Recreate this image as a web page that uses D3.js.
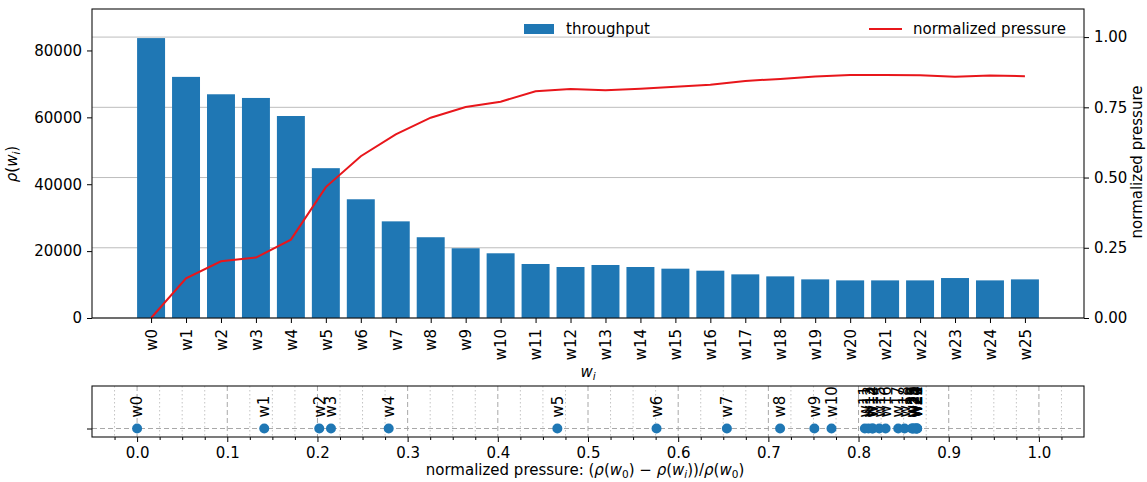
<!DOCTYPE html>
<html><head><meta charset="utf-8">
<script src="https://cdn.jsdelivr.net/npm/d3@7"></script>
<style>
body{margin:0;background:#fff;}
svg{display:block;font-family:"DejaVu Sans",sans-serif;}
</style></head><body>
<svg id="c" width="1147" height="482"></svg>
<script>
const categories = ["w0","w1","w2","w3","w4","w5","w6","w7","w8","w9","w10","w11","w12","w13","w14","w15","w16","w17","w18","w19","w20","w21","w22","w23","w24","w25"];
const throughput = [83700, 72100, 66900, 65800, 60400, 44800, 35500, 28900, 24150, 20850, 19350, 16150, 15250, 15850, 15250, 14750, 14150, 13050, 12450, 11550, 11250, 11250, 11250, 11950, 11250, 11550];
const pressure = [0.000, 0.141, 0.202, 0.215, 0.279, 0.466, 0.576, 0.654, 0.713, 0.751, 0.770, 0.807, 0.815, 0.811, 0.816, 0.823, 0.830, 0.844, 0.851, 0.860, 0.865, 0.865, 0.864, 0.859, 0.863, 0.861];
const leftTicks = [0, 20000, 40000, 60000, 80000];
const rightTicks = [0, 0.25, 0.5, 0.75, 1.0];
const stripTicks = [0, 0.1, 0.2, 0.3, 0.4, 0.5, 0.6, 0.7, 0.8, 0.9, 1.0];
const stripMinor = [-0.025, 0.025, 0.05, 0.075, 0.125, 0.15, 0.175, 0.225, 0.25, 0.275, 0.325, 0.35, 0.375, 0.425, 0.45, 0.475, 0.525, 0.55, 0.575, 0.625, 0.65, 0.675, 0.725, 0.75, 0.775, 0.825, 0.85, 0.875, 0.925, 0.95, 0.975, 1.025];

const FS = 15;
const BLUE = "#1f77b4", RED = "#e8161b";
const svg = d3.select("#c");
svg.append("rect").attr("width",1147).attr("height",482).attr("fill","#fff");

function mathText(sel, segs, size){
  let shift = 0;
  segs.forEach(s=>{
    const target = s.sub ? size*0.2 : 0;
    const t = sel.append("tspan").text(s.t).attr("dy", target - shift);
    shift = target;
    if(s.i) t.attr("font-style","italic");
    if(s.sub) t.attr("font-size", size*0.7);
  });
}

// ---------- top chart ----------
const P = {l:92, r:1084, t:9, b:318};
const x = d3.scaleLinear().domain([-1.69, 26.69]).range([P.l, P.r]);
const yL = d3.scaleLinear().domain([0, 92400]).range([P.b, P.t]);
const yR = d3.scaleLinear().domain([0, 1.1]).range([P.b, P.t]);

const gTop = svg.append("g");
gTop.selectAll("line.grid").data(rightTicks).join("line")
  .attr("x1",P.l).attr("x2",P.r).attr("y1",d=>yR(d)).attr("y2",d=>yR(d))
  .attr("stroke","#bdbdbd").attr("stroke-width",1);

const bw = x(0.4) - x(-0.4);
gTop.selectAll("rect.bar").data(throughput).join("rect")
  .attr("x",(d,i)=>x(i)-bw/2).attr("width",bw)
  .attr("y",d=>yL(d)).attr("height",d=>P.b-yL(d)).attr("fill",BLUE);

const line = d3.line().x((d,i)=>x(i)).y(d=>yR(d));
gTop.append("path").datum(pressure).attr("d",line)
  .attr("fill","none").attr("stroke",RED).attr("stroke-width",2);

const axL = gTop.append("g").attr("transform",`translate(${P.l},0)`)
  .call(d3.axisLeft(yL).tickValues(leftTicks).tickSize(5).tickPadding(5).tickFormat(d3.format("d")));
const axR = gTop.append("g").attr("transform",`translate(${P.r},0)`)
  .call(d3.axisRight(yR).tickValues(rightTicks).tickSize(5).tickPadding(5).tickFormat(d3.format(".2f")));
const axB = gTop.append("g").attr("transform",`translate(0,${P.b})`)
  .call(d3.axisBottom(x).tickValues(d3.range(categories.length)).tickSize(5).tickFormat(i=>categories[i]));
axB.selectAll("text").attr("transform","rotate(-90)").attr("text-anchor","end")
  .attr("x",-11).attr("y",0).attr("dy","0.35em");
[axL,axR,axB].forEach(a=>{
  a.select(".domain").remove();
  a.selectAll("text").attr("font-size",FS).attr("font-family","DejaVu Sans").attr("fill","#000");
  a.selectAll("line").attr("stroke","#000");
});
gTop.append("rect").attr("x",P.l).attr("y",P.t).attr("width",P.r-P.l).attr("height",P.b-P.t)
  .attr("fill","none").attr("stroke","#111").attr("stroke-width",1.1);

const tl = gTop.append("text").attr("transform",`translate(17,164) rotate(-90)`)
  .attr("text-anchor","middle").attr("dy","0.35em").attr("font-size",FS);
mathText(tl,[{t:"ρ",i:true},{t:"("},{t:"w",i:true},{t:"i",i:true,sub:true},{t:")"}],FS);
gTop.append("text").attr("transform",`translate(1137,162) rotate(-90)`)
  .attr("text-anchor","middle").attr("dy","0.35em").attr("font-size",FS).text("normalized pressure");
const tx = gTop.append("text").attr("x",588).attr("y",377).attr("text-anchor","middle").attr("font-size",FS);
mathText(tx,[{t:"w",i:true},{t:"i",i:true,sub:true}],FS);

gTop.append("rect").attr("x",524).attr("y",24).attr("width",30).attr("height",10).attr("fill",BLUE);
gTop.append("text").attr("x",566).attr("y",29).attr("dy","0.35em").attr("font-size",FS).text("throughput");
gTop.append("line").attr("x1",869).attr("x2",902).attr("y1",29).attr("y2",29).attr("stroke",RED).attr("stroke-width",2);
gTop.append("text").attr("x",913).attr("y",29).attr("dy","0.35em").attr("font-size",FS).text("normalized pressure");

// ---------- strip ----------
const S = {l:92, r:1084, t:386, b:437};
const xs = d3.scaleLinear().domain([-0.05, 1.05]).range([S.l, S.r]);
const ys = d3.scaleLinear().domain([-0.2, 1]).range([S.b, S.t]);
const st = svg.append("g");
st.append("clipPath").attr("id","sclip").append("rect")
  .attr("x",S.l).attr("y",S.t).attr("width",S.r-S.l).attr("height",S.b-S.t);

st.selectAll("line.minor").data(stripMinor).join("line")
  .attr("x1",d=>xs(d)).attr("x2",d=>xs(d)).attr("y1",S.t).attr("y2",S.b)
  .attr("stroke","#c4c4c4").attr("stroke-width",1).attr("stroke-dasharray","1.5,2.5");
st.selectAll("line.major").data(stripTicks).join("line")
  .attr("x1",d=>xs(d)).attr("x2",d=>xs(d)).attr("y1",S.t).attr("y2",S.b)
  .attr("stroke","#a8a8a8").attr("stroke-width",1).attr("stroke-dasharray","5,3");
st.append("line").attr("x1",S.l).attr("x2",S.r).attr("y1",ys(0)).attr("y2",ys(0))
  .attr("stroke","#a8a8a8").attr("stroke-width",1).attr("stroke-dasharray","5,3");

st.selectAll("circle").data(pressure).join("circle")
  .attr("cx",d=>xs(d)).attr("cy",ys(0)).attr("r",5).attr("fill",BLUE);
st.append("g").attr("clip-path","url(#sclip)")
  .selectAll("text").data(pressure).join("text")
  .attr("transform",d=>`translate(${xs(d)},${ys(0)-11}) rotate(-90)`)
  .attr("dy","0.35em").attr("font-size",FS).attr("fill","#000")
  .text((d,i)=>categories[i]);

const sB = st.append("g").attr("transform",`translate(0,${S.b})`)
  .call(d3.axisBottom(xs).tickValues(stripTicks).tickSize(5).tickPadding(5).tickFormat(d3.format(".1f")));
const sBm = st.append("g").attr("transform",`translate(0,${S.b})`)
  .call(d3.axisBottom(xs).tickValues(stripMinor).tickSize(3).tickFormat(""));
const sL = st.append("g").attr("transform",`translate(${S.l},0)`)
  .call(d3.axisLeft(ys).tickValues([0]).tickSize(5).tickFormat(""));
[sB,sBm,sL].forEach(a=>{
  a.select(".domain").remove();
  a.selectAll("text").attr("font-size",FS).attr("font-family","DejaVu Sans").attr("fill","#000");
  a.selectAll("line").attr("stroke","#000");
});
st.append("rect").attr("x",S.l).attr("y",S.t).attr("width",S.r-S.l).attr("height",S.b-S.t)
  .attr("fill","none").attr("stroke","#111").attr("stroke-width",1.1);

const sx = st.append("text").attr("x",585).attr("y",475).attr("text-anchor","middle").attr("font-size",FS);
mathText(sx,[{t:"normalized pressure: ("},{t:"ρ",i:true},{t:"("},{t:"w",i:true},{t:"0",sub:true},{t:") − "},
  {t:"ρ",i:true},{t:"("},{t:"w",i:true},{t:"i",i:true,sub:true},{t:"))/"},{t:"ρ",i:true},{t:"("},{t:"w",i:true},{t:"0",sub:true},{t:")"}],FS);
</script>
</body></html>
